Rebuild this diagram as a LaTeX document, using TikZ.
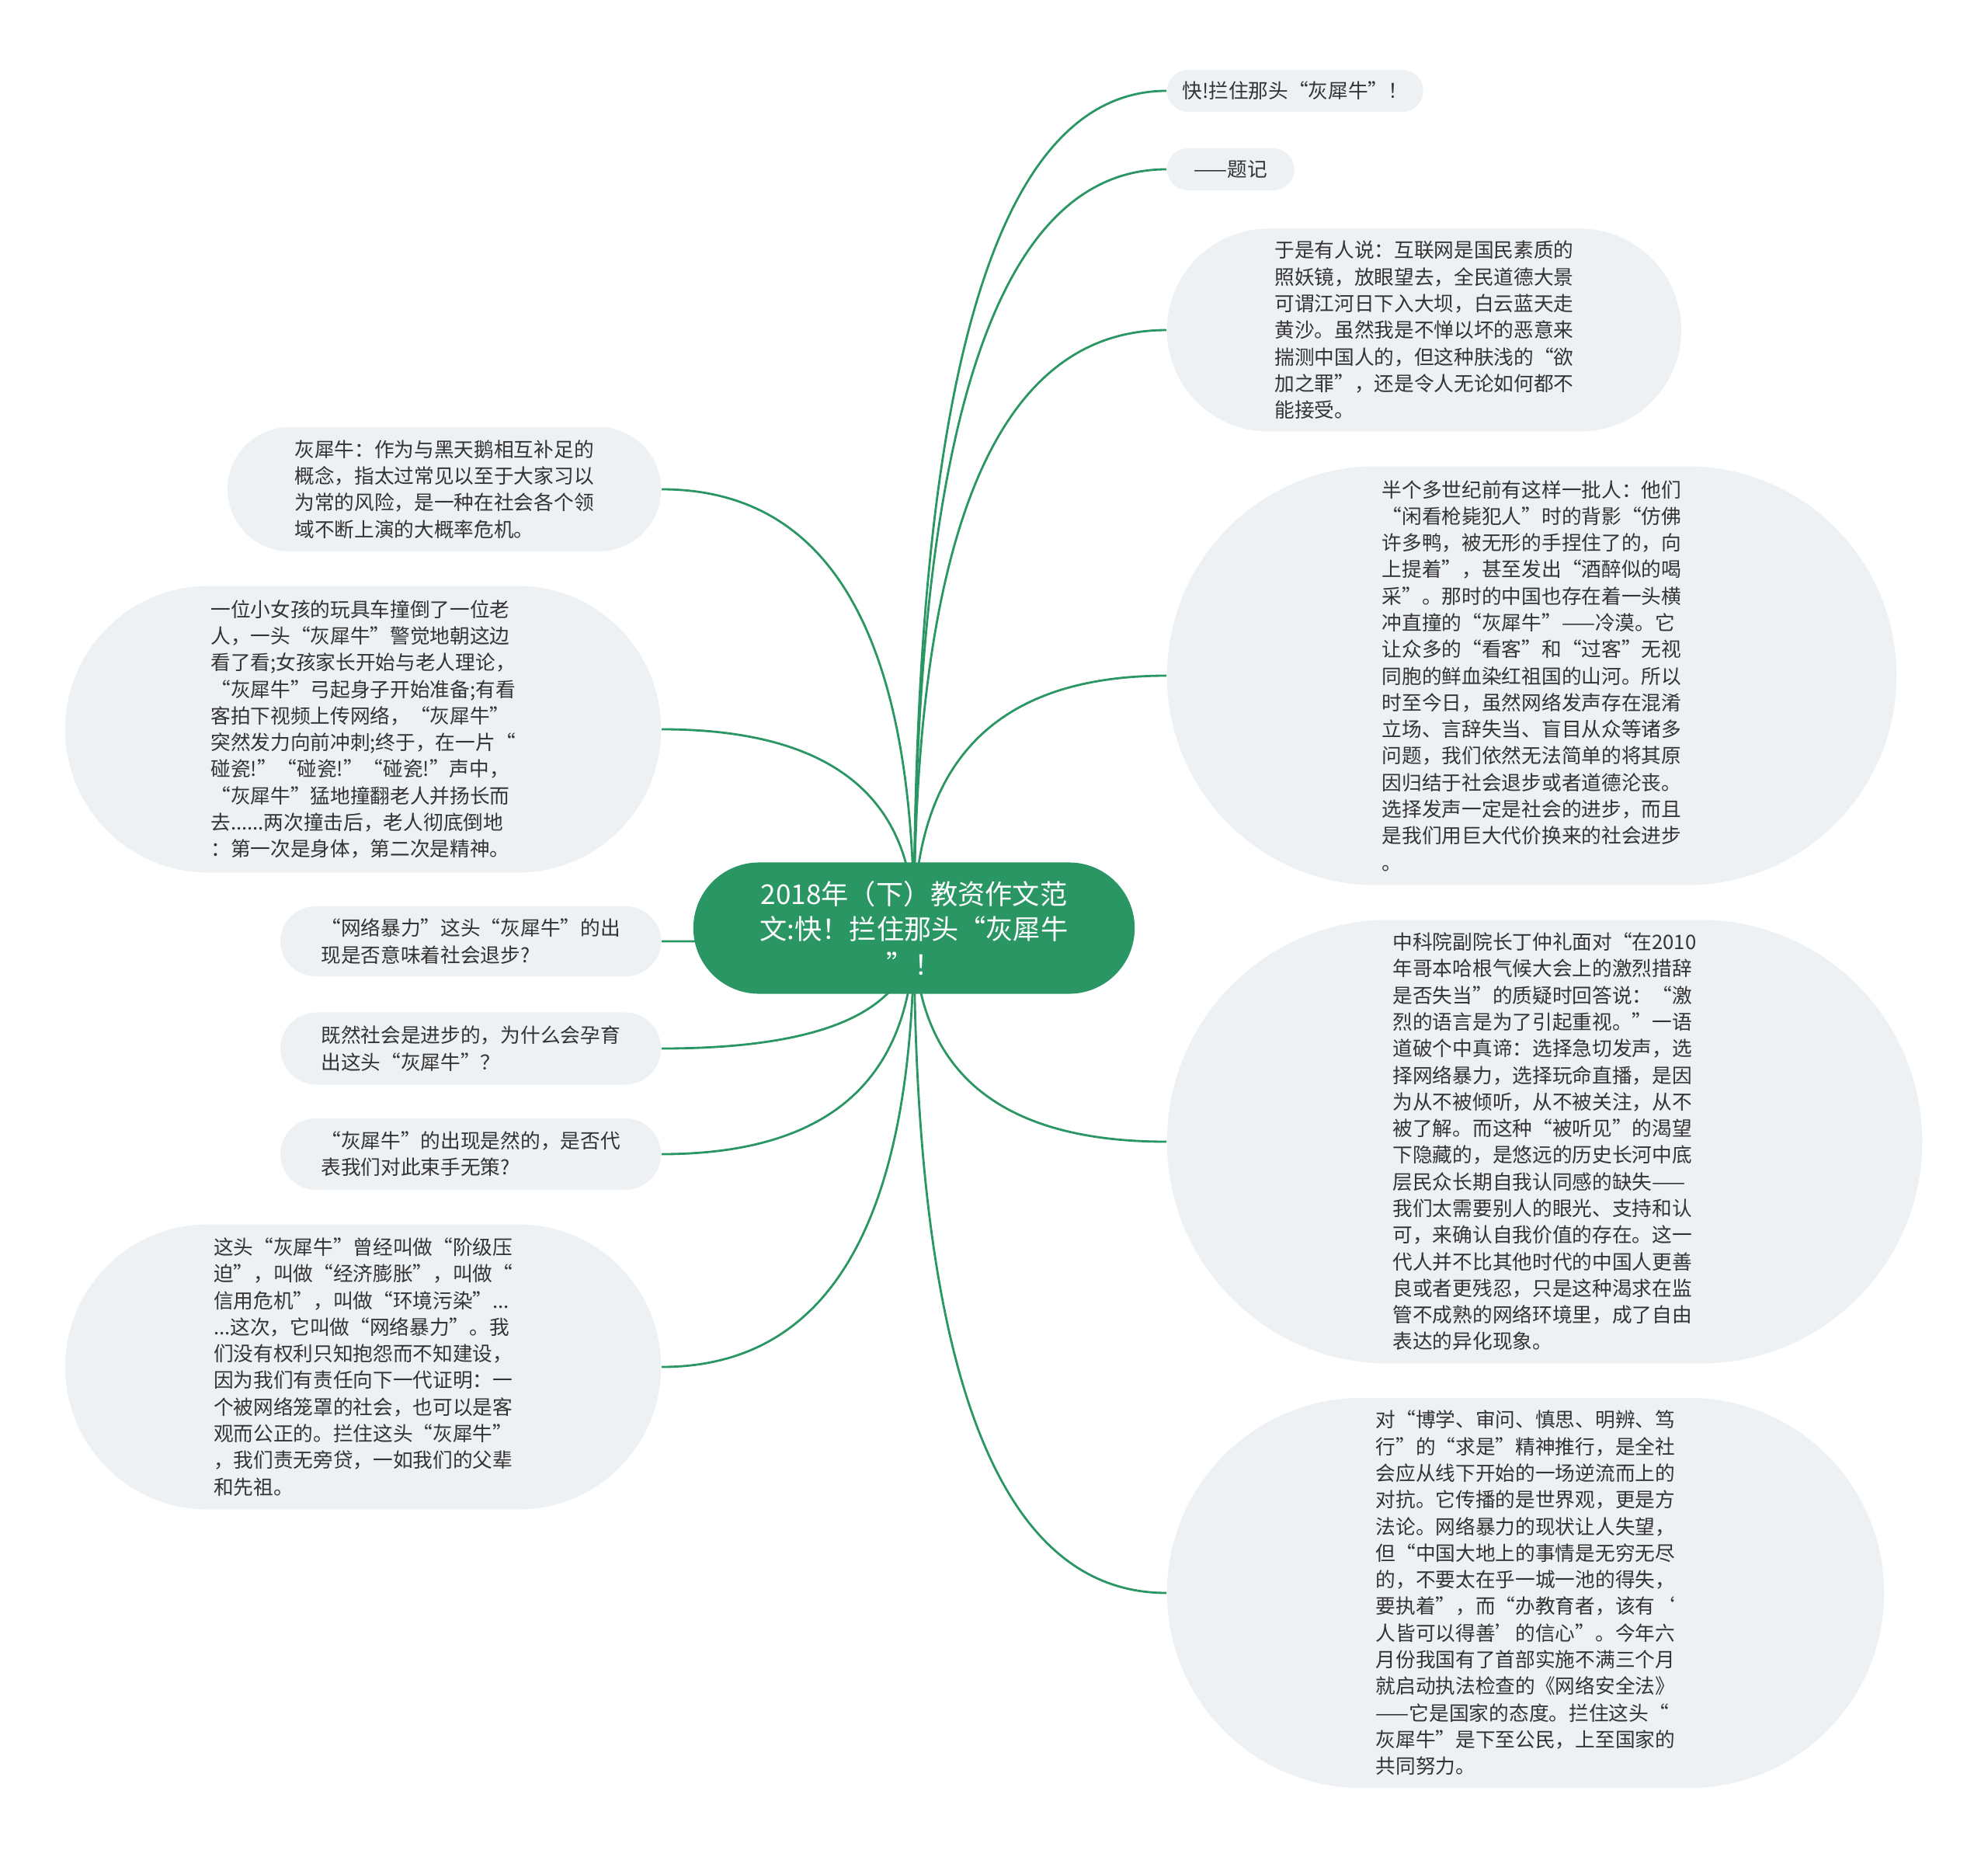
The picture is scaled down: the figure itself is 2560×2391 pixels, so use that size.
\documentclass[tikz,border=0pt]{standalone}
\usepackage{fontspec}
\setmainfont{Noto Sans CJK SC}
\usetikzlibrary{shapes.misc,backgrounds,calc}

\definecolor{branchgreen}{HTML}{2A9664}
\definecolor{leafgray}{HTML}{EEF1F4}
\definecolor{leaftext}{HTML}{333333}

\tikzset{
  leaf/.style={rounded rectangle, fill=leafgray, text=leaftext, align=left,
    font=\fontsize{7.3}{9.75}\selectfont, inner sep=0pt},
  rootnode/.style={rounded rectangle, fill=branchgreen, text=white, align=center,
    font=\fontsize{10}{13}\selectfont, inner sep=0pt},
  branch/.style={draw=branchgreen, line width=0.8pt},
}

\begin{document}
\begin{tikzpicture}[x=0.01cm, y=-0.01cm]
    \useasboundingbox (0,0) rectangle (2560,2391);

    % centre
    \node[rootnode, minimum width=5.68cm, minimum height=1.69cm] (root) at (1177,1195)
        {2018年（下）教资作文范\\文:快！拦住那头“灰犀牛\\”！};

    % right side
    \node[leaf, anchor=west, minimum width=3.30cm, minimum height=0.54cm] (r1) at (1502,117)
        {快!拦住那头“灰犀牛”！};
    \node[leaf, anchor=west, minimum width=1.64cm, minimum height=0.54cm] (r2) at (1502,218)
        {——题记};
    \node[leaf, anchor=west, minimum width=6.62cm, minimum height=2.61cm] (r3) at (1502,425)
        {于是有人说：互联网是国民素质的\\照妖镜，放眼望去，全民道德大景\\可谓江河日下入大坝，白云蓝天走\\黄沙。虽然我是不惮以坏的恶意来\\揣测中国人的，但这种肤浅的“欲\\加之罪”，还是令人无论如何都不\\能接受。};
    \node[leaf, anchor=west, minimum width=9.39cm, minimum height=5.39cm] (r4) at (1502,870)
        {半个多世纪前有这样一批人：他们\\“闲看枪毙犯人”时的背影“仿佛\\许多鸭，被无形的手捏住了的，向\\上提着”，甚至发出“酒醉似的喝\\采”。那时的中国也存在着一头横\\冲直撞的“灰犀牛”——冷漠。它\\让众多的“看客”和“过客”无视\\同胞的鲜血染红祖国的山河。所以\\时至今日，虽然网络发声存在混淆\\立场、言辞失当、盲目从众等诸多\\问题，我们依然无法简单的将其原\\因归结于社会退步或者道德沦丧。\\选择发声一定是社会的进步，而且\\是我们用巨大代价换来的社会进步\\。};
    \node[leaf, anchor=west, minimum width=9.72cm, minimum height=5.71cm] (r5) at (1502,1470)
        {中科院副院长丁仲礼面对“在2010\\年哥本哈根气候大会上的激烈措辞\\是否失当”的质疑时回答说：“激\\烈的语言是为了引起重视。”一语\\道破个中真谛：选择急切发声，选\\择网络暴力，选择玩命直播，是因\\为从不被倾听，从不被关注，从不\\被了解。而这种“被听见”的渴望\\下隐藏的，是悠远的历史长河中底\\层民众长期自我认同感的缺失——\\我们太需要别人的眼光、支持和认\\可，来确认自我价值的存在。这一\\代人并不比其他时代的中国人更善\\良或者更残忍，只是这种渴求在监\\管不成熟的网络环境里，成了自由\\表达的异化现象。};
    \node[leaf, anchor=west, minimum width=9.23cm, minimum height=5.02cm] (r6) at (1502,2051)
        {对“博学、审问、慎思、明辨、笃\\行”的“求是”精神推行，是全社\\会应从线下开始的一场逆流而上的\\对抗。它传播的是世界观，更是方\\法论。网络暴力的现状让人失望，\\但“中国大地上的事情是无穷无尽\\的，不要太在乎一城一池的得失，\\要执着”，而“办教育者，该有‘\\人皆可以得善’的信心”。今年六\\月份我国有了首部实施不满三个月\\就启动执法检查的《网络安全法》\\——它是国家的态度。拦住这头“\\灰犀牛”是下至公民，上至国家的\\共同努力。};

    % left side
    \node[leaf, anchor=east, minimum width=5.58cm, minimum height=1.60cm] (l1) at (852,630)
        {灰犀牛：作为与黑天鹅相互补足的\\概念，指太过常见以至于大家习以\\为常的风险，是一种在社会各个领\\域不断上演的大概率危机。};
    \node[leaf, anchor=east, minimum width=7.67cm, minimum height=3.69cm] (l2) at (852,939)
        {一位小女孩的玩具车撞倒了一位老\\人，一头“灰犀牛”警觉地朝这边\\看了看;女孩家长开始与老人理论，\\“灰犀牛”弓起身子开始准备;有看\\客拍下视频上传网络，“灰犀牛”\\突然发力向前冲刺;终于，在一片“\\碰瓷!”“碰瓷!”“碰瓷!”声中，\\“灰犀牛”猛地撞翻老人并扬长而\\去......两次撞击后，老人彻底倒地\\：第一次是身体，第二次是精神。};
    \node[leaf, anchor=east, minimum width=4.90cm, minimum height=0.90cm] (l3) at (852,1212)
        {“网络暴力”这头“灰犀牛”的出\\现是否意味着社会退步?};
    \node[leaf, anchor=east, minimum width=4.90cm, minimum height=0.93cm] (l4) at (852,1350)
        {既然社会是进步的，为什么会孕育\\出这头“灰犀牛”？};
    \node[leaf, anchor=east, minimum width=4.90cm, minimum height=0.92cm] (l5) at (852,1486)
        {“灰犀牛”的出现是然的，是否代\\表我们对此束手无策?};
    \node[leaf, anchor=east, minimum width=7.67cm, minimum height=3.67cm] (l6) at (852,1760)
        {这头“灰犀牛”曾经叫做“阶级压\\迫”，叫做“经济膨胀”，叫做“\\信用危机”，叫做“环境污染”...\\...这次，它叫做“网络暴力”。我\\们没有权利只知抱怨而不知建设，\\因为我们有责任向下一代证明：一\\个被网络笼罩的社会，也可以是客\\观而公正的。拦住这头“灰犀牛”\\，我们责无旁贷，一如我们的父辈\\和先祖。};

    % branches
    \begin{scope}[on background layer]
        \foreach \leaf/\side in {r1/west,r2/west,r3/west,r4/west,r5/west,r6/west,
                                 l1/east,l2/east,l3/east,l4/east,l5/east,l6/east}
            \draw[branch] (root.center)
                .. controls ($(root.center)!0.667!(root.center |- \leaf.\side)$)
                and ($(\leaf.\side)!0.667!(root.center |- \leaf.\side)$) .. (\leaf.\side);
    \end{scope}
\end{tikzpicture}
\end{document}
